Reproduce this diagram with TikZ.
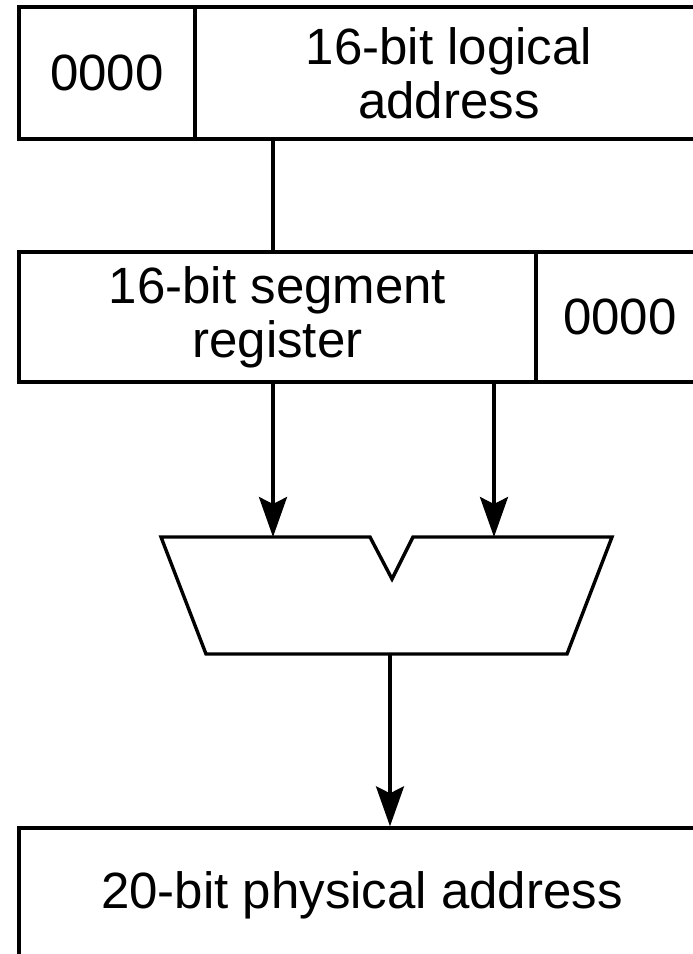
\documentclass[tikz,border=0pt]{standalone}
\usepackage{fontspec}
\setmainfont{Liberation Sans}
\usetikzlibrary{arrows.meta,positioning}

\begin{document}
\begin{tikzpicture}[x=0.5pt,y=-0.5pt,
  cell/.style={rectangle,draw,line width=1.7pt,inner sep=0pt,align=center,
               font=\fontsize{25.5}{27}\selectfont},
  alu/.style={draw,line width=1.7pt,line join=miter},
  link/.style={line width=1.7pt},
  arr/.style={link,-{Stealth[length=20pt,width=14pt,inset=3.5pt]}}
]
  \useasboundingbox (0,0) rectangle (692,954);
  % logical address
  \node[cell,minimum width=88pt,minimum height=66pt] (lowpad) at (107,73) {0000};
  \node[cell,minimum width=254pt,minimum height=66pt] (logical) at (449,73) {16-bit logical\\address};
  % segment register, shifted left by four bits
  \node[cell,minimum width=258.5pt,minimum height=65pt] (segment) at (277.5,317) {16-bit segment\\register};
  \node[cell,minimum width=84pt,minimum height=65pt] (shiftpad) at (620,317) {0000};
  % physical address
  \node[cell,minimum width=343pt,minimum height=67pt] (physical) at (362,895) {20-bit physical address};
  % adder
  \coordinate (inA) at (273,537);
  \coordinate (inB) at (494,537);
  \coordinate (sum) at (390,654);
  \draw[alu] (161,537) -- (370,537) -- (392,579) -- (413,537) -- (612,537)
    -- (567,654) -- (206,654) -- cycle;
  \draw[link] (inA |- logical.south) -- (inA |- segment.north);
  \draw[arr] (inA |- segment.south) -- (inA);
  \draw[arr] (inB |- segment.south) -- (inB);
  \draw[arr] (sum) -- (sum |- physical.north);
\end{tikzpicture}
\end{document}
